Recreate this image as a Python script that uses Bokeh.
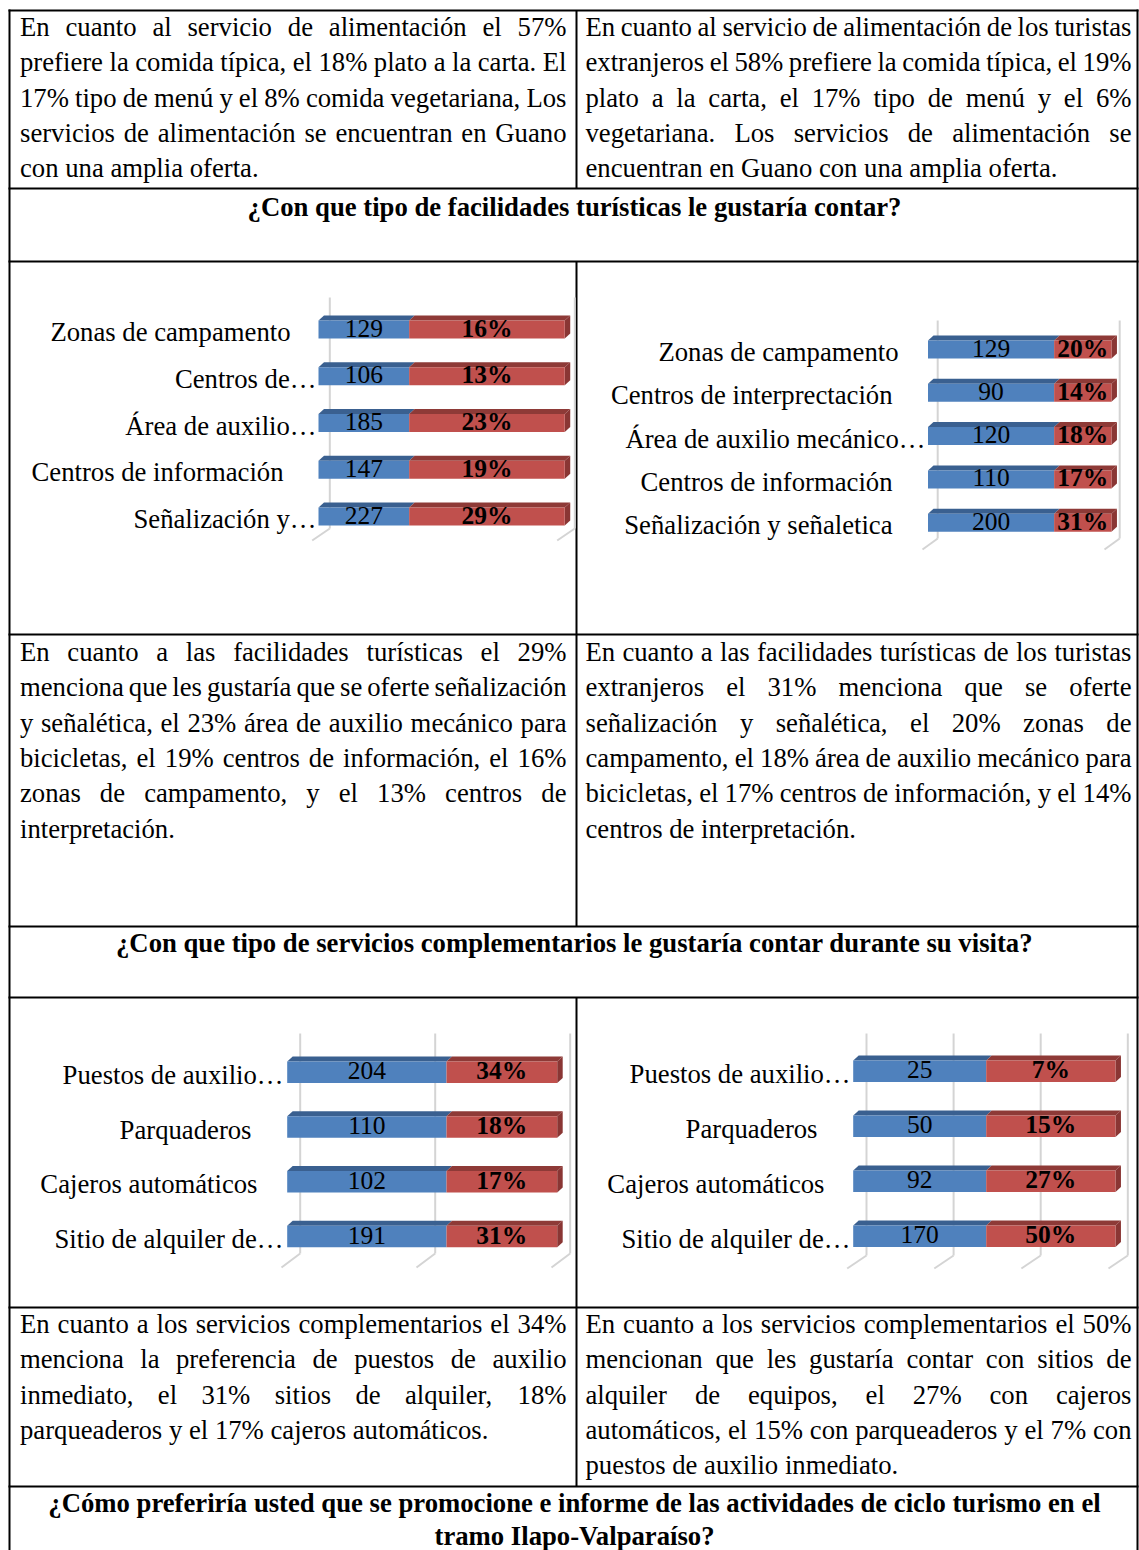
from bokeh.plotting import figure
from bokeh.models import Range1d, ColumnDataSource
from bokeh.core.properties import value
from bokeh.embed import file_html
from bokeh.resources import INLINE

# ---------------------------------------------------------------- texts
r1_left = [
    "En cuanto al servicio de alimentación el 57%",
    "prefiere la comida típica, el 18% plato a la carta. El",
    "17% tipo de menú y el 8% comida vegetariana, Los",
    "servicios de alimentación se encuentran en Guano",
    "con una amplia oferta.",
]
r1_right = [
    "En cuanto al servicio de alimentación de los turistas",
    "extranjeros el 58% prefiere la comida típica, el 19%",
    "plato a la carta, el 17% tipo de menú y el 6%",
    "vegetariana. Los servicios de alimentación se",
    "encuentran en Guano con una amplia oferta.",
]
header_1 = ["¿Con que tipo de facilidades turísticas le gustaría contar?"]
r4_left = [
    "En cuanto a las facilidades turísticas el 29%",
    "menciona que les gustaría que se oferte señalización",
    "y señalética, el 23% área de auxilio mecánico para",
    "bicicletas, el 19% centros de información, el 16%",
    "zonas de campamento, y el 13% centros de",
    "interpretación.",
]
r4_right = [
    "En cuanto a las facilidades turísticas de los turistas",
    "extranjeros el 31% menciona que se oferte",
    "señalización y señalética, el 20% zonas de",
    "campamento, el 18% área de auxilio mecánico para",
    "bicicletas, el 17% centros de información, y el 14%",
    "centros de interpretación.",
]
header_2 = ["¿Con que tipo de servicios complementarios le gustaría contar durante su visita?"]
r7_left = [
    "En cuanto a los servicios complementarios el 34%",
    "menciona la preferencia de puestos de auxilio",
    "inmediato, el 31% sitios de alquiler, 18%",
    "parqueaderos y el 17% cajeros automáticos.",
]
r7_right = [
    "En cuanto a los servicios complementarios el 50%",
    "mencionan que les gustaría contar con sitios de",
    "alquiler de equipos, el 27% con cajeros",
    "automáticos, el 15% con parqueaderos y el 7% con",
    "puestos de auxilio inmediato.",
]
header_3 = [
    "¿Cómo preferiría usted que se promocione e informe de las actividades de ciclo turismo en el",
    "tramo Ilapo-Valparaíso?",
]

# ---------------------------------------------------------------- chart data
c1_labels = ["Zonas de campamento", "Centros de…", "Área de auxilio…", "Centros de información", "Señalización y…"]
c1_counts = [129, 106, 185, 147, 227]
c1_pcts = [16, 13, 23, 19, 29]
c1_blue_len = [0.37, 0.37, 0.37, 0.37, 0.37]
c1_red_len = [0.635, 0.635, 0.635, 0.635, 0.635]
c1_ticks = [0, 1]

c2_labels = ["Zonas de campamento", "Centros de interprectación", "Área de auxilio mecánico…",
             "Centros de información", "Señalización y señaletica"]
c2_counts = [129, 90, 120, 110, 200]
c2_pcts = [20, 14, 18, 17, 31]
c2_blue_len = [0.693, 0.693, 0.693, 0.693, 0.693]
c2_red_len = [0.315, 0.315, 0.315, 0.315, 0.315]
c2_ticks = [0, 1]

c3_labels = ["Puestos de auxilio…", "Parquaderos", "Cajeros automáticos", "Sitio de alquiler de…"]
c3_counts = [204, 110, 102, 191]
c3_pcts = [34, 18, 17, 31]
c3_blue_len = [1.18, 1.18, 1.18, 1.18]
c3_red_len = [0.82, 0.82, 0.82, 0.82]
c3_ticks = [0, 1, 2]

c4_labels = ["Puestos de auxilio…", "Parquaderos", "Cajeros automáticos", "Sitio de alquiler de…"]
c4_counts = [25, 50, 92, 170]
c4_pcts = [7, 15, 27, 50]
c4_blue_len = [1.527, 1.527, 1.527, 1.527]
c4_red_len = [1.484, 1.484, 1.484, 1.484]
c4_ticks = [0, 1, 2, 3]

# ---------------------------------------------------------------- styles / layout
FONT = "Liberation Serif"
BODY = 26.7
LINE = 35.3
VAL_SIZE = 25.5
BLUE, BLUE_TOP = "#4F81BD", "#3A6090"
RED, RED_TOP, RED_SIDE = "#C0504D", "#8E3A37", "#8A3634"
GRID = "#D4D4D4"

PAGE_W, PAGE_H = 1139, 1550
OX, OY = 0, 0

TR = {" ": 250, "%": 833, ",": 250, ".": 250, "-": 333, "?": 444, "¿": 444, "…": 1000,
      "A": 722, "B": 667, "C": 667, "D": 722, "E": 611, "F": 556, "G": 722, "H": 722, "I": 333,
      "J": 389, "K": 722, "L": 611, "M": 889, "N": 722, "O": 722, "P": 556, "Q": 722, "R": 667,
      "S": 556, "T": 611, "U": 722, "V": 722, "W": 944, "X": 722, "Y": 722, "Z": 611,
      "a": 444, "b": 500, "c": 444, "d": 500, "e": 444, "f": 333, "g": 500, "h": 500, "i": 278,
      "j": 278, "k": 500, "l": 278, "m": 778, "n": 500, "o": 500, "p": 500, "q": 500, "r": 333,
      "s": 389, "t": 278, "u": 500, "v": 500, "w": 722, "x": 500, "y": 500, "z": 444,
      "á": 444, "é": 444, "í": 278, "ó": 500, "ú": 500, "ñ": 500, "Á": 722}


def tw(s, size):
    return sum(TR.get(ch, 500) for ch in s) * size / 1000.0


p = figure(width=PAGE_W, height=PAGE_H,
           x_range=Range1d(OX, OX + PAGE_W), y_range=Range1d(OY + PAGE_H, OY),
           output_backend="svg", toolbar_location=None, min_border=0,
           x_axis_location=None, y_axis_location=None,
           outline_line_color=None, background_fill_color="white", border_fill_color="white")
p.xgrid.visible = False
p.ygrid.visible = False

# ---------------------------------------------------------------- table rules
TL, TR_X, DIV = 9, 1137, 576
rows_y = [10, 188, 261, 634, 926, 997, 1307, 1486]
p.segment(x0=[TL - 1] * len(rows_y), x1=[TR_X + 1] * len(rows_y), y0=rows_y, y1=rows_y,
          line_color="black", line_width=2)
p.segment(x0=[TL, TR_X, DIV, DIV, DIV], x1=[TL, TR_X, DIV, DIV, DIV],
          y0=[9, 9, 10, 261, 997], y1=[OY + PAGE_H, OY + PAGE_H, 188, 926, 1486],
          line_color="black", line_width=2)

# ---------------------------------------------------------------- paragraphs
left_src = dict(x=[], y=[], text=[])
right_src = dict(x=[], y=[], text=[])


def paragraph(lines, L, R, y0):
    for k, line in enumerate(lines):
        y = y0 + k * LINE
        words = line.split(" ")
        if k < len(lines) - 1 and len(words) > 1:
            widths = [tw(w, BODY) for w in words]
            gap = (R - L - sum(widths)) / (len(words) - 1)
            x = L
            for j, (w, ww) in enumerate(zip(words, widths)):
                if j == len(words) - 1:
                    right_src["x"].append(R); right_src["y"].append(y); right_src["text"].append(w)
                else:
                    left_src["x"].append(x); left_src["y"].append(y); left_src["text"].append(w)
                x += ww + gap
        else:
            left_src["x"].append(L); left_src["y"].append(y); left_src["text"].append(line)


LX0, LX1, RX0, RX1 = 19.5, 566, 585, 1131
paragraph(r1_left, LX0, LX1, 26.5)
paragraph(r1_right, RX0, RX1, 26.5)
paragraph(r4_left, LX0, LX1, 651.5)
paragraph(r4_right, RX0, RX1, 651.5)
paragraph(r7_left, LX0, LX1, 1323.5)
paragraph(r7_right, RX0, RX1, 1323.5)

txt = dict(text_font=value(FONT), text_font_size=value(f"{BODY}px"), text_color="black",
           text_baseline="middle")
p.text(x="x", y="y", text="text", source=ColumnDataSource(left_src), text_align="left", **txt)
p.text(x="x", y="y", text="text", source=ColumnDataSource(right_src), text_align="right", **txt)

# headers
HX = 574
hdr = dict(x=[HX, HX, HX, HX], y=[206, 942, 1502, 1535],
           text=header_1 + header_2 + header_3)
p.text(x="x", y="y", text="text", source=ColumnDataSource(hdr), text_align="center",
       text_font_style="bold", **txt)

# ---------------------------------------------------------------- charts
charts = [
    (c1_labels, c1_counts, c1_pcts, c1_blue_len, c1_red_len, c1_ticks,
     dict(x0=318, unit=245, yc0=329, step=46.75, bar_h=18, grid_top=297, wall_bottom=528,
          floor_front=540, wall_dx=11.3, floor_dx=-6.3, gaps=[28, 2, 2, 35, 2])),
    (c2_labels, c2_counts, c2_pcts, c2_blue_len, c2_red_len, c2_ticks,
     dict(x0=927.5, unit=182, yc0=349, step=43.3, bar_h=18, grid_top=320, wall_bottom=538,
          floor_front=549, wall_dx=9.7, floor_dx=-5.5, gaps=[29.5, 35.5, 2.5, 35.5, 35.5])),
    (c3_labels, c3_counts, c3_pcts, c3_blue_len, c3_red_len, c3_ticks,
     dict(x0=286.7, unit=135, yc0=1071.7, step=54.8, bar_h=21.5, grid_top=1033, wall_bottom=1253,
          floor_front=1267, wall_dx=13, floor_dx=-5.7, gaps=[3.7, 35.7, 29.7, 3.7])),
    (c4_labels, c4_counts, c4_pcts, c4_blue_len, c4_red_len, c4_ticks,
     dict(x0=852.7, unit=87.1, yc0=1070.8, step=55, bar_h=21.5, grid_top=1033, wall_bottom=1255,
          floor_front=1268, wall_dx=13.3, floor_dx=-6, gaps=[2.7, 35.7, 28.7, 2.7])),
]
BAR_DX, BAR_DY = 5.5, 5.0
LABEL_BASE, VALUE_BASE = 2.5, -1.5

xr, yr = {}, {}
for k, (*_, L) in enumerate(charts):
    xr[f"c{k}x"] = Range1d(start=(OX - L["x0"]) / L["unit"], end=(OX + PAGE_W - L["x0"]) / L["unit"])
    yr[f"c{k}y"] = Range1d(start=(OY + PAGE_H - L["yc0"]) / L["step"], end=(OY - L["yc0"]) / L["step"])
p.extra_x_ranges = xr
p.extra_y_ranges = yr

for k, (labels, counts, pcts, blue_len, red_len, ticks, L) in enumerate(charts):
    kw = dict(x_range_name=f"c{k}x", y_range_name=f"c{k}y")
    kx, ky = 1.0 / L["unit"], 1.0 / L["step"]
    n = len(labels)
    idx = list(range(n))

    # back-wall gridlines and floor
    gb = [t + L["wall_dx"] * kx for t in ticks]
    gf = [t + L["floor_dx"] * kx for t in ticks]
    yt = (L["grid_top"] - L["yc0"]) * ky
    yb = (L["wall_bottom"] - L["yc0"]) * ky
    yf = (L["floor_front"] - L["yc0"]) * ky
    m = len(ticks)
    p.segment(x0=gb, x1=gb, y0=[yt] * m, y1=[yb] * m, line_color=GRID, line_width=2, **kw)
    p.segment(x0=gf, x1=gb, y0=[yf] * m, y1=[yb] * m, line_color=GRID, line_width=2, **kw)

    # 3-D bars
    h = L["bar_h"] * ky
    dx, dy = BAR_DX * kx, -BAR_DY * ky
    bend = list(blue_len)
    rend = [b + r for b, r in zip(blue_len, red_len)]
    top = [i - h / 2 for i in idx]
    bot = [i + h / 2 for i in idx]
    p.patches(xs=[[0, dx, b + dx, b] for b in bend],
              ys=[[t, t + dy, t + dy, t] for t in top],
              fill_color=BLUE_TOP, line_color=None, **kw)
    p.patches(xs=[[b, b + dx, e + dx, e] for b, e in zip(bend, rend)],
              ys=[[t, t + dy, t + dy, t] for t in top],
              fill_color=RED_TOP, line_color=None, **kw)
    p.patches(xs=[[e, e + dx, e + dx, e] for e in rend],
              ys=[[t, t + dy, b2 + dy, b2] for t, b2 in zip(top, bot)],
              fill_color=RED_SIDE, line_color=None, **kw)
    p.hbar(y=idx, height=h, left=0, right=bend, fill_color=BLUE, line_color=None, **kw)
    p.hbar(y=idx, height=h, left=bend, right=rend, fill_color=RED, line_color=None, **kw)

    # data labels
    vy = [i + VALUE_BASE * ky for i in idx]
    p.text(x=[b / 2 for b in bend], y=vy, text=[str(c) for c in counts],
           text_align="center", text_baseline="middle", text_font=value(FONT),
           text_font_size=value(f"{VAL_SIZE}px"), text_color="black", **kw)
    p.text(x=[(b + e) / 2 for b, e in zip(bend, rend)], y=vy, text=[f"{v}%" for v in pcts],
           text_align="center", text_baseline="middle", text_font=value(FONT),
           text_font_style="bold", text_font_size=value(f"{VAL_SIZE}px"), text_color="black", **kw)
    # category labels
    p.text(x=[-g * kx for g in L["gaps"]], y=[i + LABEL_BASE * ky for i in idx], text=labels,
           text_align="right", text_baseline="middle", text_font=value(FONT),
           text_font_size=value(f"{BODY}px"), text_color="black", **kw)

open("out.html", "w").write(file_html(p, INLINE))
